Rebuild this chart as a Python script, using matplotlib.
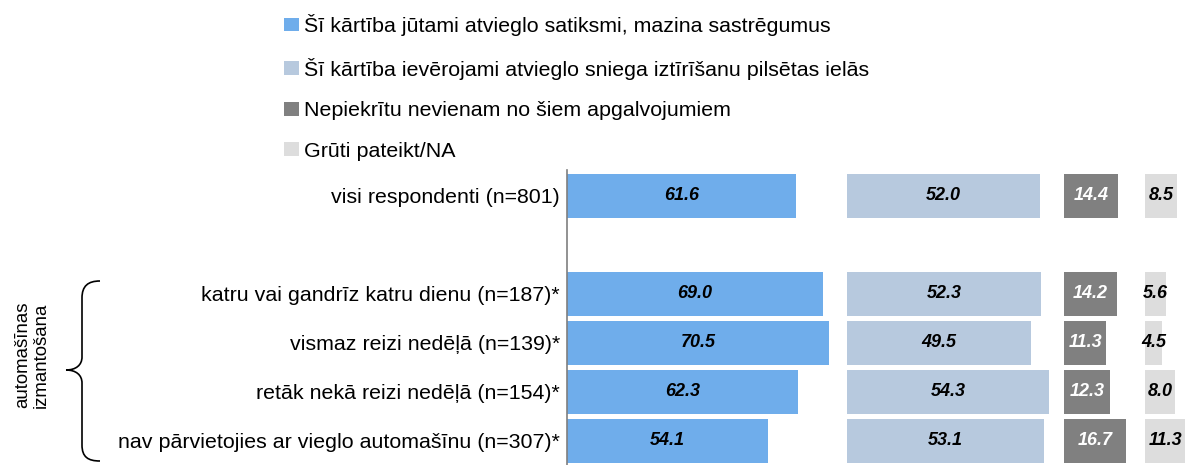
import numpy as np
import matplotlib
matplotlib.use("Agg")
import matplotlib.pyplot as plt
from matplotlib.patches import Patch, PathPatch
from matplotlib.path import Path

plt.rcParams["font.family"] = ["Liberation Sans", "DejaVu Sans"]

# ====== Data ======
categories = [
    "visi respondenti (n=801)",
    "",
    "katru vai gandrīz katru dienu (n=187)*",
    "vismaz reizi nedēļā (n=139)*",
    "retāk nekā reizi nedēļā (n=154)*",
    "nav pārvietojies ar vieglo automašīnu (n=307)*",
]
series_names = [
    "Šī kārtība jūtami atvieglo satiksmi, mazina sastrēgumus",
    "Šī kārtība ievērojami atvieglo sniega iztīrīšanu pilsētas ielās",
    "Nepiekrītu nevienam no šiem apgalvojumiem",
    "Grūti pateikt/NA",
]
eases_traffic = [61.6, np.nan, 69.0, 70.5, 62.3, 54.1]
eases_snow = [52.0, np.nan, 52.3, 49.5, 54.3, 53.1]
disagree = [14.4, np.nan, 14.2, 11.3, 12.3, 16.7]
hard_to_say = [8.5, np.nan, 5.6, 4.5, 8.0, 11.3]

# ====== Style ======
colors = ["#6FADEB", "#B7C9DE", "#808080", "#DDDDDD"]
label_colors = ["black", "black", "white", "black"]
panel_starts = [0, 75.5, 134, 155.8]
FS = 15.4

W, H = 1185, 465
fig = plt.figure(figsize=(W / 100, H / 100), dpi=100)

ax = fig.add_axes([567 / W, 0, 1 - 567 / W, 1 - 170 / H])
ax.set_xlim(0, (W - 567) / 3.71)
ax.set_ylim(5.49, -0.53)

y = np.arange(len(categories))
all_series = [eases_traffic, eases_snow, disagree, hard_to_say]
for vals, start, col, lc in zip(all_series, panel_starts, colors, label_colors):
    vals = np.array(vals, dtype=float)
    mask = ~np.isnan(vals)
    bars = ax.barh(y[mask], vals[mask], left=start, height=0.89, color=col)
    for b, v in zip(bars, vals[mask]):
        ax.text(b.get_x() + b.get_width() / 2, b.get_y() + b.get_height() / 2,
                f"{v:.1f}", ha="center", va="center", fontsize=13,
                fontweight="bold", fontstyle="italic", color=lc)

ax.set_yticks(y)
ax.set_yticklabels(categories, fontsize=FS)
ax.tick_params(axis="y", length=0, pad=5)
ax.set_xticks([])
for s in ["top", "right", "bottom"]:
    ax.spines[s].set_visible(False)
ax.spines["left"].set_color("#7F7F7F")
ax.spines["left"].set_linewidth(1.2)

# ====== Legend ======
handles = [Patch(facecolor=c, edgecolor="none") for c in colors]
fig.legend(handles, series_names, loc="upper left",
           bbox_to_anchor=(284 / W, 1 - 14 / H), frameon=False, fontsize=FS,
           handlelength=0.72, handleheight=0.62, handletextpad=0.2,
           labelspacing=1.01, borderaxespad=0, borderpad=0)

# ====== Brace + group label ======
ov = fig.add_axes([0, 0, 1, 1], zorder=-1)
ov.set_xlim(0, W)
ov.set_ylim(H, 0)
ov.axis("off")
verts = [(100, 281), (88, 281), (82, 286), (82, 298),
         (82, 357),
         (82, 365), (76, 370), (66, 370),
         (76, 370), (82, 375), (82, 383),
         (82, 445),
         (82, 457), (88, 461), (100, 461)]
codes = [Path.MOVETO, Path.CURVE4, Path.CURVE4, Path.CURVE4,
         Path.LINETO,
         Path.CURVE4, Path.CURVE4, Path.CURVE4,
         Path.CURVE4, Path.CURVE4, Path.CURVE4,
         Path.LINETO,
         Path.CURVE4, Path.CURVE4, Path.CURVE4]
ov.add_patch(PathPatch(Path(verts, codes), facecolor="none",
                       edgecolor="black", linewidth=1.2))
ov.text(32, 355, "automašīnas\nizmantošana", rotation=90, ha="center",
        va="center", multialignment="center", fontsize=13.4,
        linespacing=1.1)

fig.savefig("out.png", dpi=100)
